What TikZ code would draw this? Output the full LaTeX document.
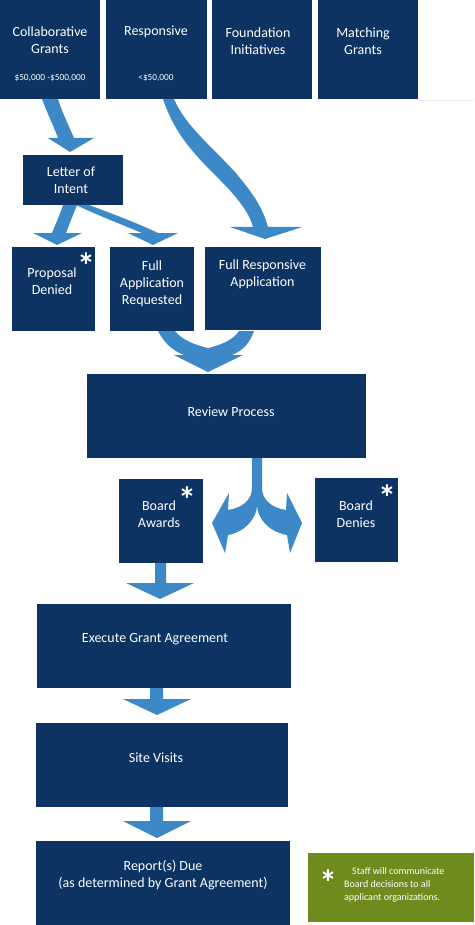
\documentclass[tikz,border=0pt]{standalone}
\usepackage{fontspec}
\setmainfont{Carlito}
\definecolor{navy}{RGB}{12,51,98}
\definecolor{arrowblue}{RGB}{61,137,200}
\definecolor{olive}{RGB}{110,139,29}
\newcommand\drawbox[6]{%
  \pgfmathsetmacro\bw{#4-#2}\pgfmathsetmacro\bh{#5-#3}%
  \node[#6, minimum width=\bw pt, minimum height=\bh pt] (#1) at ({(#2+#4)/2},{(#3+#5)/2}) {};}
\tikzset{
  box/.style={fill=navy, draw=none, inner sep=0pt, outer sep=0pt},
  notebox/.style={fill=olive, draw=none, inner sep=0pt, outer sep=0pt},
  txt/.style={text=white, font=\fontsize{14}{17}\selectfont, align=center, inner sep=0pt},
  small/.style={text=white, font=\fontsize{9.3}{11}\selectfont, align=center, inner sep=0pt},
  notetxt/.style={text=white, font=\fontsize{10}{13}\selectfont, align=left, inner sep=0pt, anchor=west},
  star/.style={text=white, font=\fontsize{36}{36}\selectfont\bfseries, inner sep=0pt},
  blockarrow/.style={fill=arrowblue, draw=none},
}
\begin{document}
\begin{tikzpicture}[x=1pt,y=-1pt]
\useasboundingbox (0,0) rectangle (474,925);
\fill[white] (0,0) rectangle (474,925);
\draw[black!8, line width=0.6pt] (418,100) -- (474,100);
% boxes
\drawbox{cg}{0}{0}{100}{99}{box}
\drawbox{resp}{106}{0}{207}{99}{box}
\drawbox{fi}{212}{0}{312}{99}{box}
\drawbox{mg}{318}{0}{418}{99}{box}
\drawbox{loi}{23}{155}{123}{205}{box}
\drawbox{pd}{12}{247}{95}{331}{box}
\drawbox{far}{110}{247}{194}{331}{box}
\drawbox{fra}{205}{247}{321}{330}{box}
\drawbox{rev}{87}{374}{366}{458}{box}
\drawbox{ba}{119}{479}{203}{563}{box}
\drawbox{bd}{315}{478}{398}{562}{box}
\drawbox{ega}{37}{604}{291}{688}{box}
\drawbox{sv}{36}{723}{288}{807}{box}
\drawbox{rep}{36}{841}{290}{925}{box}
\drawbox{note}{308}{853}{474}{922}{notebox}
% texts
\node[txt] (cgt) at (50,40) {Collaborative\\Grants};
\node[small] (cgs) at (50,78) {\$50,000 -\$500,000};
\node[txt] (respt) at (156,32) {Responsive};
\node[small] (resps) at (156,78) {<\$50,000};
\node[txt] (fit) at (258,41) {Foundation\\Initiatives};
\node[txt] (mgt) at (363,41) {Matching\\Grants};
\node[txt] (loit) at (71,180) {Letter of\\Intent};
\node[txt] (pdt) at (52,281.5) {Proposal\\Denied};
\node[star] (pds) at (86,266) {*};
\node[txt] (fart) at (152,284) {Full\\Application\\Requested};
\node[txt] (frat) at (262.5,274.5) {Full Responsive\\Application};
\node[txt] (revt) at (231,412) {Review Process};
\node[txt] (bat) at (159,514) {Board\\Awards};
\node[star] (bas) at (187,500) {*};
\node[txt] (bdt) at (356,514) {Board\\Denies};
\node[star] (bds) at (387,498) {*};
\node[txt] (egat) at (155,639) {Execute Grant Agreement};
\node[txt] (svt) at (156,758) {Site Visits};
\node[txt] (rept) at (163,875.5) {Report(s) Due\\(as determined by Grant Agreement)};
\node[star] (notes) at (328,883) {*};
\node[notetxt] (notet) at (344,885) {\hspace*{8pt}Staff will communicate\\Board decisions to all\\applicant organizations.};
% block arrows
% Collaborative -> Letter of Intent
\fill[blockarrow] (42,99) .. controls (48,115) and (54,127) .. (58,138) -- (48,138) -- (70,152) -- (94,138) -- (74,138) .. controls (68,124) and (62,112) .. (58,99) -- cycle;
% Responsive -> Full Responsive Application
\fill[blockarrow] (163,99) .. controls (175,135) and (195,155) .. (220,180) .. controls (240,200) and (250,215) .. (253,227) -- (230,227) -- (265,239) -- (302,227) -- (268,227) .. controls (262,205) and (250,190) .. (235,172) .. controls (210,145) and (185,125) .. (174,99) -- cycle;
% Letter of Intent -> Proposal Denied
\fill[blockarrow] (63,205) .. controls (60,215) and (55,225) .. (52,233) -- (33,233) -- (57,245) -- (82,233) -- (66,233) .. controls (69,225) and (73,215) .. (77,205) -- cycle;
% Letter of Intent -> Full Application Requested
\fill[blockarrow] (76,205) -- (89,205) .. controls (110,213) and (135,222) .. (158,233) -- (178,233) -- (153,245) -- (128,233) -- (142,233) .. controls (120,224) and (95,214) .. (76,205) -- cycle;
% merge into Review Process
\fill[blockarrow] (158,331) .. controls (164,342) and (171,350) .. (184,355) -- (174,355) -- (208,372) -- (243,355) -- (232,355) .. controls (244,350) and (250,342) .. (254,331) -- (239,331) .. controls (234,339) and (222,345) .. (208,348) .. controls (194,345) and (181,339) .. (175,331) -- cycle;
% split from Review Process
\fill[blockarrow] (252,458) -- (252,488) .. controls (252,500) and (242,508) .. (228,510) -- (229,493) -- (212,523) -- (225,553) -- (228,535) .. controls (245,532) and (257,518) .. (257,505) .. controls (257,518) and (269,532) .. (287,535) -- (290,553) -- (302,523) -- (287,493) -- (286,510) .. controls (272,508) and (262,500) .. (262,488) -- (262,458) -- cycle;
% Board Awards -> Execute
\fill[blockarrow] (155,563) -- (155,583) -- (126,583) -- (160,599) -- (194,583) -- (166,583) -- (166,563) -- cycle;
% Execute -> Site Visits
\fill[blockarrow] (150,688) -- (150,699) -- (123,699) -- (157,715) -- (191,699) -- (163,699) -- (163,688) -- cycle;
% Site Visits -> Report
\fill[blockarrow] (150,807) -- (150,821) -- (123,821) -- (157,838) -- (191,821) -- (163,821) -- (163,807) -- cycle;
\end{tikzpicture}
\end{document}
